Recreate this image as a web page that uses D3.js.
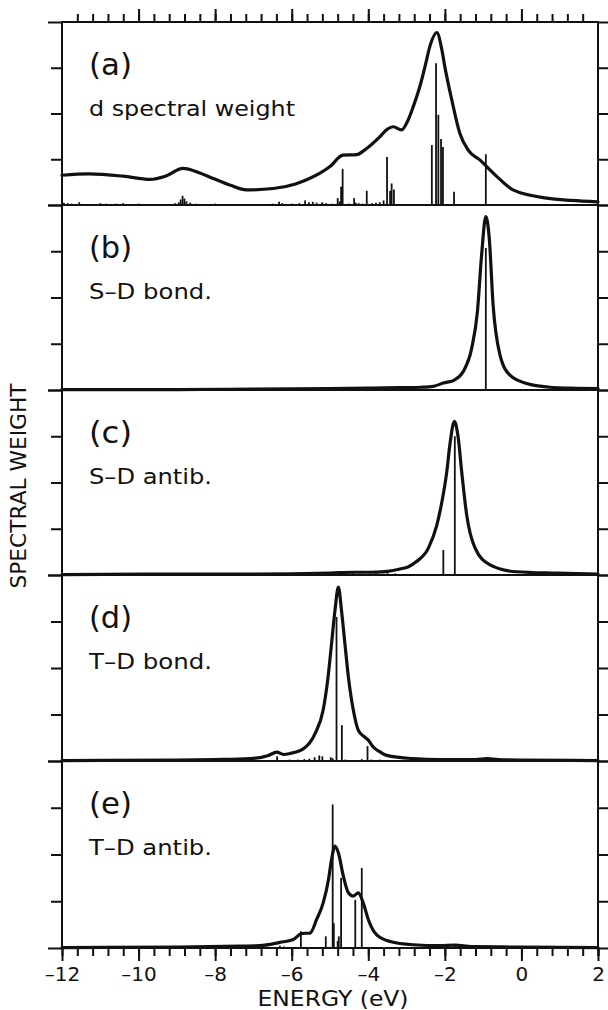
<!DOCTYPE html>
<html><head><meta charset="utf-8">
<script src="https://cdn.jsdelivr.net/npm/d3@7"></script>
<style>body{margin:0;background:#fff}svg{display:block}</style>
</head><body>
<svg id="chart" width="608" height="1010"></svg>
<script>
// ---------------- data ----------------
const panelTags = ["(a)", "(b)", "(c)", "(d)", "(e)"];
const panelNames = ["d spectral weight", "S–D bond.", "S–D antib.", "T–D bond.", "T–D antib."];
const xMajorTicks = [-12, -10, -8, -6, -4, -2, 0, 2];
const yTicks = [0, 1, 2, 3, 4];
const xLabel = "ENERGY (eV)";
const yLabel = "SPECTRAL WEIGHT";

// [energy eV, weight]
const curveA = [[-12,0.65],[-11.3,0.68],[-10.4,0.63],[-9.7,0.56],[-9.3,0.63],[-8.84,0.80],[-8.4,0.70],[-8.05,0.58],[-7.6,0.43],[-7.18,0.33],[-6.48,0.36],[-5.9,0.46],[-5.61,0.55],[-5.0,0.84],[-4.66,1.09],[-4.3,1.10],[-4.1,1.2],[-3.7,1.49],[-3.5,1.66],[-3.35,1.71],[-3.13,1.64],[-2.98,1.82],[-2.83,2.14],[-2.65,2.6],[-2.52,3.02],[-2.38,3.5],[-2.21,3.77],[-2.08,3.4],[-2.0,3.02],[-1.82,2.30],[-1.61,1.57],[-1.39,1.20],[-1.08,0.98],[-0.64,0.62],[-0.22,0.33],[0.66,0.15],[1.3,0.1],[2.0,0.07]];
const sticksA = [[-2.23,3.1],[-2.17,1.97],[-2.34,1.31],[-2.10,1.44],[-2.05,1.27],[-1.76,0.29],[-0.93,1.11],[-3.51,1.05],[-3.43,0.31],[-3.39,0.47],[-3.33,0.34],[-3.60,0.1],[-4.67,0.79],[-4.71,0.4],[-4.04,0.31],[-4.37,0.15],[-4.33,0.05],[-8.85,0.2],[-8.9,0.12],[-8.8,0.14],[-8.75,0.08],[-8.95,0.06],
  [-11.95,0.05],[-11.85,0.04],[-11.75,0.03],[-11.55,0.06],[-11.3,0.02],[-11.0,0.04],[-10.85,0.03],[-10.6,0.03],[-10.4,0.04],[-10.2,0.02],[-10.0,0.03],[-9.8,0.02],[-9.55,0.02],[-9.3,0.02],[-9.05,0.04],[-8.65,0.05],[-8.5,0.03],[-8.3,0.02],[-8.0,0.03],[-7.7,0.02],[-7.4,0.02],[-7.1,0.02],[-6.8,0.02],[-6.5,0.03],[-6.33,0.07],[-6.25,0.04],[-6.0,0.03],[-5.8,0.04],[-5.65,0.1],[-5.55,0.06],[-5.45,0.07],[-5.35,0.05],[-5.2,0.06],[-5.1,0.04],[-4.95,0.03],[-4.8,0.15],[-4.75,0.08],[-4.5,0.03],[-4.25,0.04],[-4.15,0.03],[-3.9,0.04],[-3.8,0.05],[-3.7,0.06],[-3.2,0.02],[-3.1,0.02],[-3.0,0.02]];

const curveB = [[-12,0.01],[-9,0.01],[-7,0.02],[-5,0.03],[-4,0.04],[-3.17,0.05],[-2.6,0.06],[-2.30,0.08],[-2.04,0.15],[-1.74,0.22],[-1.52,0.40],[-1.30,0.90],[-1.15,1.69],[-1.04,2.92],[-0.93,3.75],[-0.84,3.28],[-0.74,1.84],[-0.56,0.76],[-0.30,0.32],[0.14,0.14],[0.74,0.06],[1.3,0.04],[2,0.03]];
const sticksB = [[-0.93,3.07]];

const curveC = [[-12,0.01],[-9,0.02],[-7,0.02],[-5,0.04],[-4.4,0.06],[-4.0,0.06],[-3.5,0.08],[-3.17,0.13],[-2.95,0.18],[-2.74,0.29],[-2.43,0.58],[-2.21,1.08],[-2.06,1.66],[-1.95,2.23],[-1.87,2.81],[-1.75,3.32],[-1.65,2.96],[-1.56,2.23],[-1.43,1.30],[-1.21,0.58],[-0.82,0.22],[-0.13,0.07],[0.92,0.04],[2,0.02]];
const sticksC = [[-1.74,3.0],[-2.04,0.54],[-4.8,0.03],[-4.4,0.04],[-4.2,0.03],[-3.95,0.03],[-3.8,0.04],[-3.6,0.03],[-3.5,0.04],[-3.3,0.03]];

const curveD = [[-12,0.01],[-9,0.02],[-8,0.03],[-7.09,0.05],[-6.61,0.12],[-6.39,0.19],[-6.2,0.14],[-6.05,0.16],[-5.70,0.26],[-5.39,0.59],[-5.18,1.09],[-5.05,1.81],[-4.96,2.52],[-4.87,3.24],[-4.78,3.74],[-4.70,3.24],[-4.61,2.52],[-4.52,1.81],[-4.39,1.09],[-4.26,0.66],[-4.1,0.52],[-4.0,0.45],[-3.87,0.30],[-3.7,0.2],[-3.52,0.12],[-2.82,0.05],[-2.13,0.03],[-1.2,0.03],[-0.9,0.05],[-0.6,0.03],[0,0.02],[2,0.01]];
const sticksD = [[-4.83,3.10],[-4.69,0.77],[-4.02,0.32],[-6.38,0.1],[-5.2,0.1],[-4.98,0.08],[-7.2,0.02],[-7.0,0.03],[-6.8,0.02],[-6.06,0.03],[-5.84,0.03],[-5.67,0.04],[-5.54,0.05],[-5.4,0.08],[-5.28,0.12],[-4.93,0.06],[-4.6,0.03],[-4.17,0.04],[-3.92,0.03],[-3.7,0.03],[-3.57,0.02]];

const curveE = [[-12,0.01],[-9,0.02],[-7.35,0.04],[-6.83,0.05],[-6.31,0.12],[-5.96,0.18],[-5.74,0.31],[-5.52,0.32],[-5.35,0.61],[-5.18,0.96],[-5.04,1.46],[-4.96,1.89],[-4.87,2.18],[-4.78,2.03],[-4.65,1.53],[-4.52,1.18],[-4.39,1.11],[-4.26,1.18],[-4.13,0.96],[-4.0,0.61],[-3.78,0.28],[-3.43,0.14],[-2.83,0.07],[-2.13,0.05],[-1.74,0.06],[-1.3,0.03],[0,0.02],[2,0.01]];
const sticksE = [[-4.93,3.07],[-4.71,1.50],[-4.34,1.03],[-4.17,1.71],[-5.76,0.36],[-5.11,0.25],[-4.90,0.53],[-4.77,0.25],[-4.8,0.15],[-6.31,0.05],[-6.2,0.03],[-1.74,0.04]];

const panelCurves = [curveA, curveB, curveC, curveD, curveE];
const panelSticks = [sticksA, sticksB, sticksC, sticksD, sticksE];

// ---------------- layout ----------------
const svg = d3.select("#chart");
const leftX = 62, rightX = 598;
const edges = [22, 205, 390, 575, 761, 948];
const FONT = "'DejaVu Sans', 'Liberation Sans', sans-serif";
const ink = "#111";

const x = d3.scaleLinear().domain([-12, 2]).range([leftX, rightX]);
const minorTicks = d3.range(0, 36).map(i => Math.round((-12 + i * 0.4) * 10) / 10);

svg.append("rect").attr("width", 608).attr("height", 1010).attr("fill", "#fff");

panelCurves.forEach((curve, i) => {
  const y = d3.scaleLinear().domain([0, 4]).range([edges[i + 1], edges[i]]);
  const g = svg.append("g");

  const la = g.append("g").attr("transform", `translate(${leftX},0)`)
    .call(d3.axisLeft(y).tickValues(yTicks).tickSize(11).tickFormat(""));
  la.select(".domain").remove();
  la.selectAll("line").attr("x2", d => (d === 0 || d === 4) ? -14 : -11)
    .attr("stroke", ink).attr("stroke-width", 2);
  const ra = g.append("g").attr("transform", `translate(${rightX},0)`)
    .call(d3.axisRight(y).tickValues(yTicks).tickSize(11).tickFormat(""));
  ra.select(".domain").remove();
  ra.selectAll("line").attr("stroke", ink).attr("stroke-width", 2);

  g.append("rect").attr("x", leftX).attr("y", edges[i])
    .attr("width", rightX - leftX).attr("height", edges[i + 1] - edges[i])
    .attr("fill", "none").attr("stroke", ink).attr("stroke-width", 2);

  g.append("g").selectAll("line").data(panelSticks[i]).join("line")
    .attr("x1", d => x(d[0])).attr("x2", d => x(d[0]))
    .attr("y1", y(0)).attr("y2", d => y(d[1]))
    .attr("stroke", ink).attr("stroke-width", 1.8);

  const line = d3.line().x(d => x(d[0])).y(d => y(d[1])).curve(d3.curveMonotoneX);
  g.append("path").datum(curve).attr("d", line)
    .attr("fill", "none").attr("stroke", ink).attr("stroke-width", 3.2)
    .attr("stroke-linejoin", "round").attr("stroke-linecap", "round");

  g.append("text").attr("x", 89).attr("y", edges[i] + 53)
    .attr("font-family", FONT).attr("font-size", 31).attr("fill", ink)
    .attr("textLength", 43).attr("lengthAdjust", "spacingAndGlyphs")
    .text(panelTags[i]);
  g.append("text").attr("x", 89).attr("y", edges[i] + 94)
    .attr("font-family", FONT).attr("font-size", 22).attr("fill", ink)
    .attr("textLength", i === 0 ? 206 : 123).attr("lengthAdjust", "spacingAndGlyphs")
    .text(panelNames[i]);
});

const topG = svg.append("g").attr("transform", `translate(0,${edges[0]})`);
const topMinor = topG.append("g").call(d3.axisTop(x).tickValues(minorTicks.filter(v => v > -12 && v < 2)).tickSize(8).tickFormat(""));
topMinor.select(".domain").remove();
const topMajor = topG.append("g").call(d3.axisTop(x).tickValues(xMajorTicks.filter(v => v > -12 && v < 2)).tickSize(13).tickFormat(""));
topMajor.select(".domain").remove();
topG.selectAll("line").attr("stroke", ink).attr("stroke-width", 2);

const botG = svg.append("g").attr("transform", `translate(0,${edges[5]})`);
const botMinor = botG.append("g").call(d3.axisBottom(x).tickValues(minorTicks.concat([2])).tickSize(8).tickFormat(""));
botMinor.select(".domain").remove();
const botMajor = botG.append("g").call(d3.axisBottom(x).tickValues(xMajorTicks).tickSize(13)
  .tickFormat(d => d < 0 ? "–" + Math.abs(d) : String(d)));
botMajor.select(".domain").remove();
botG.selectAll("line").attr("stroke", ink).attr("stroke-width", 2);
botMajor.selectAll("text").attr("y", 33).attr("dy", 0)
  .attr("font-family", FONT).attr("font-size", 20).attr("fill", ink);

svg.append("text").attr("x", (leftX + rightX) / 2 + 3).attr("y", 1006)
  .attr("text-anchor", "middle").attr("font-family", FONT).attr("font-size", 21).attr("fill", ink)
  .attr("textLength", 151).attr("lengthAdjust", "spacingAndGlyphs")
  .text(xLabel);
svg.append("text").attr("transform", "translate(26,486) rotate(-90)")
  .attr("text-anchor", "middle").attr("font-family", FONT).attr("font-size", 21).attr("fill", ink)
  .attr("textLength", 205).attr("lengthAdjust", "spacingAndGlyphs")
  .text(yLabel);
</script>
</body></html>
